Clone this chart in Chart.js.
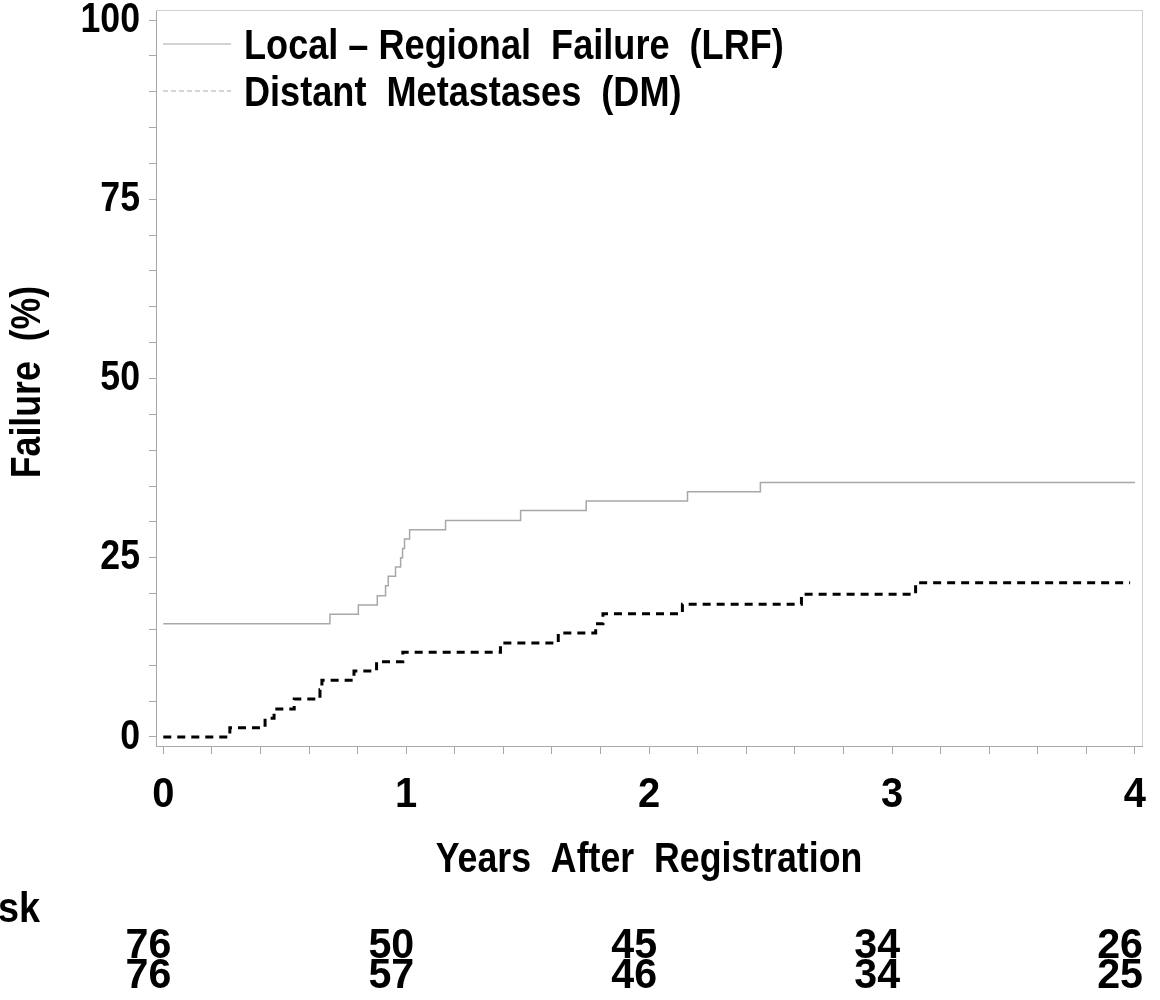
<!DOCTYPE html>
<html>
<head>
<meta charset="utf-8">
<script src="https://cdn.jsdelivr.net/npm/chart.js@4.4.1/dist/chart.umd.min.js"></script>
<style>
  html, body { margin: 0; padding: 0; background: #fff; }
  #wrap { width: 1160px; height: 1000px; }
</style>
</head>
<body>
<div id="wrap"><canvas id="chart" width="1160" height="1000"></canvas></div>
<script>
// cumulative failure, step points (time in years, failure %)
const lrfTimes = [0, 0.686, 0.803, 0.881, 0.915, 0.926, 0.956, 0.977, 0.985, 0.993, 1.014, 1.162, 1.471, 1.741, 2.158, 2.458, 4.0];
const lrfValues = [15.8, 17.1, 18.4, 19.7, 21.1, 22.4, 23.7, 25.0, 26.3, 27.6, 28.9, 30.2, 31.6, 32.9, 34.2, 35.5, 35.5];
const dmTimes = [0, 0.274, 0.419, 0.456, 0.539, 0.645, 0.653, 0.785, 0.878, 0.986, 1.388, 1.626, 1.78, 1.81, 2.137, 2.627, 3.097, 3.98];
const dmValues = [0, 1.3, 2.6, 3.9, 5.3, 6.6, 7.9, 9.2, 10.5, 11.8, 13.1, 14.5, 15.8, 17.2, 18.5, 19.9, 21.5, 21.5];

const xMajorTicks = [0, 1, 2, 3, 4];
const yMajorTicks = [0, 25, 50, 75, 100];

// numbers at risk
const atRiskTimes = [0, 1, 2, 3, 4];
const lrfAtRisk = [76, 50, 45, 34, 26];
const dmAtRisk = [76, 57, 46, 34, 25];

const FONT = 'bold 42px "Liberation Sans", Arial, sans-serif';
const AXIS = '#a8a8a8';

function toPoints(xs, ys) {
  return xs.map((x, i) => ({ x: x, y: ys[i] }));
}

// condensed text: squeeze along the writing direction
function narrowText(ctx, text, x, y, align, squeeze, rot) {
  ctx.save();
  ctx.translate(x, y);
  if (rot) ctx.rotate(rot);
  ctx.scale(squeeze, 1);
  ctx.font = FONT;
  ctx.fillStyle = '#000';
  ctx.textAlign = align;
  ctx.textBaseline = 'middle';
  ctx.fillText(text, 0, 0);
  ctx.restore();
}

const framePlugin = {
  id: 'frame',
  afterDraw(chart) {
    const { ctx, chartArea: a } = chart;
    ctx.save();
    ctx.strokeStyle = '#cfcfcf';
    ctx.lineWidth = 1;
    ctx.beginPath();
    ctx.moveTo(a.left, a.top + 0.5);
    ctx.lineTo(a.right + 0.5, a.top + 0.5);
    ctx.lineTo(a.right + 0.5, a.bottom);
    ctx.stroke();
    ctx.restore();
  }
};

const labelsPlugin = {
  id: 'labels',
  afterDraw(chart) {
    const { ctx, chartArea: a } = chart;
    const xs = chart.scales.x;
    const ys = chart.scales.y;
    xMajorTicks.forEach((v) => narrowText(ctx, String(v), xs.getPixelForValue(v), 795, 'center', 0.95));
    yMajorTicks.forEach((v) => narrowText(ctx, String(v), 140, ys.getPixelForValue(v), 'right', 0.85));
    narrowText(ctx, 'Years  After  Registration', (a.left + a.right) / 2, 860, 'center', 0.85);
    narrowText(ctx, 'Failure  (%)', 28, (a.top + a.bottom) / 2 + 4, 'center', 0.85, -Math.PI / 2);
  }
};

const legendPlugin = {
  id: 'boxLegend',
  afterDraw(chart) {
    const ctx = chart.ctx;
    const rows = [
      { y: 47, dash: [], label: chart.data.datasets[0].label },
      { y: 94, dash: [5, 3], label: chart.data.datasets[1].label }
    ];
    rows.forEach((r) => {
      ctx.save();
      ctx.strokeStyle = AXIS;
      ctx.lineWidth = 1.2;
      ctx.setLineDash(r.dash);
      ctx.beginPath();
      ctx.moveTo(163, r.y - 3);
      ctx.lineTo(231, r.y - 3);
      ctx.stroke();
      ctx.restore();
      narrowText(ctx, r.label, 244, r.y, 'left', 0.86);
    });
  }
};

const atRiskPlugin = {
  id: 'atRisk',
  afterDraw(chart) {
    const ctx = chart.ctx;
    const xs = chart.scales.x;
    narrowText(ctx, 'At  Risk', 40, 910, 'right', 0.9);
    atRiskTimes.forEach((t, i) => {
      const px = xs.getPixelForValue(t) + 8;
      narrowText(ctx, String(lrfAtRisk[i]), px, 946, 'right', 0.98);
      narrowText(ctx, String(dmAtRisk[i]), px, 976, 'right', 0.98);
    });
  }
};

new Chart(document.getElementById('chart'), {
  type: 'line',
  data: {
    datasets: [
      {
        label: 'Local – Regional  Failure  (LRF)',
        data: toPoints(lrfTimes, lrfValues),
        borderColor: AXIS,
        borderWidth: 1.5,
        stepped: 'before',
        pointRadius: 0,
        fill: false
      },
      {
        label: 'Distant  Metastases  (DM)',
        data: toPoints(dmTimes, dmValues),
        borderColor: '#000',
        borderWidth: 3,
        borderDash: [8, 6],
        stepped: 'before',
        pointRadius: 0,
        fill: false
      }
    ]
  },
  options: {
    responsive: false,
    animation: false,
    layout: { padding: { top: 10, right: 18, left: 0, bottom: 0 } },
    plugins: { legend: { display: false }, tooltip: { enabled: false } },
    scales: {
      x: {
        type: 'linear',
        min: -0.03,
        max: 4.029,
        afterBuildTicks(scale) {
          const t = [];
          for (let i = 0; i <= 20; i++) t.push({ value: i / 5 });
          scale.ticks = t;
        },
        afterFit(scale) { scale.height = 254; },
        grid: { drawOnChartArea: false, tickLength: 8, tickColor: AXIS },
        border: { color: AXIS, width: 1 },
        ticks: { display: false, autoSkip: false }
      },
      y: {
        type: 'linear',
        min: -1.26,
        max: 101.4,
        afterBuildTicks(scale) {
          const t = [];
          for (let v = 0; v <= 100; v += 5) t.push({ value: v });
          scale.ticks = t;
        },
        afterFit(scale) { scale.width = 156; },
        grid: { drawOnChartArea: false, tickLength: 7, tickColor: AXIS },
        border: { color: AXIS, width: 1 },
        ticks: { display: false, autoSkip: false }
      }
    }
  },
  plugins: [framePlugin, labelsPlugin, legendPlugin, atRiskPlugin]
});
</script>
</body>
</html>
